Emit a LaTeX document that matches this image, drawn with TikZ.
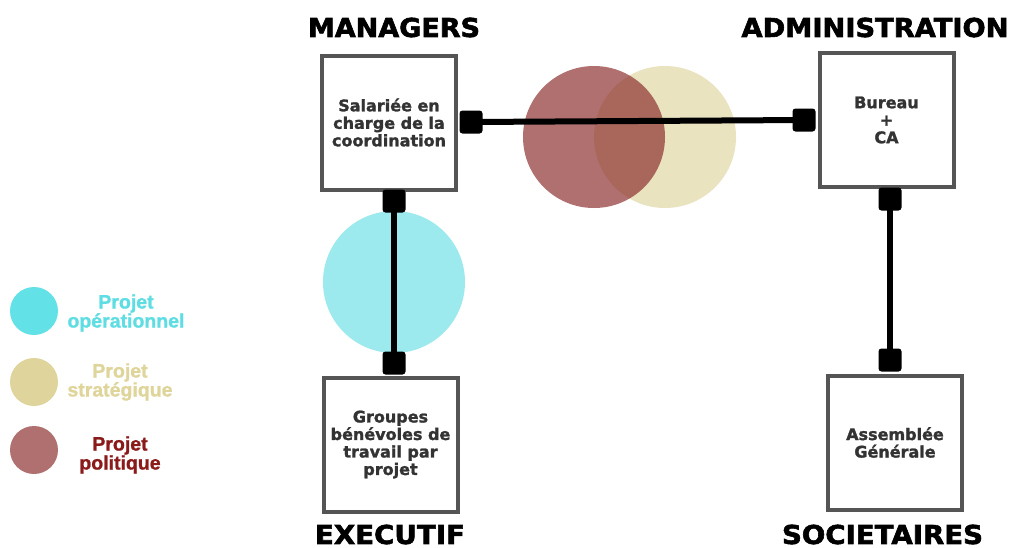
\documentclass[tikz,border=0pt]{standalone}
\usepackage{fontspec}
\setmainfont{DejaVu Sans}
\newfontfamily\headfont{DejaVu Sans}[BoldFeatures={FakeBold=2.2}]
\newfontfamily\boxfont{DejaVu Sans}[BoldFeatures={FakeBold=1.5}]
\newfontfamily\legfont{Liberation Sans}[BoldFeatures={FakeBold=1}]
\usepackage{graphicx}
\definecolor{cyanbig}{HTML}{9CEAEE}
\definecolor{yellowbig}{HTML}{E9E3BF}
\definecolor{redbase}{HTML}{8B2D2D}
\definecolor{cyanleg}{HTML}{62E1E6}
\definecolor{yellowleg}{HTML}{DED49C}
\definecolor{redleg}{HTML}{B07070}
\definecolor{cyantext}{HTML}{5EDDE3}
\definecolor{yellowtext}{HTML}{DFD59B}
\definecolor{redtext}{HTML}{8B1A1A}
\definecolor{boxgray}{HTML}{555555}
\definecolor{textgray}{HTML}{333333}
\begin{document}
\begin{tikzpicture}[x=1pt,y=-1pt,
  box/.style={draw=boxgray, line width=4pt, minimum width=134pt, minimum height=134pt,
    inner sep=0pt, align=center, text=textgray,
    font=\boxfont\fontsize{16}{17.5}\selectfont\bfseries},
  plug/.style={fill=black, rounded corners=3pt, minimum size=23pt, inner sep=0pt},
  conn/.style={line width=6pt},
  head/.style={inner sep=0pt, font=\headfont\fontsize{26}{26}\selectfont\bfseries},
  leg/.style={align=center, inner sep=0pt, font=\legfont\fontsize{19.5}{19}\selectfont\bfseries}]
\useasboundingbox[fill=white] (0,0) rectangle (1010,547);
% big circles
\fill[cyanbig] (394,282) circle[radius=71pt];
\fill[yellowbig] (665,137) circle[radius=71pt];
\fill[redbase, opacity=0.68] (594,137) circle[radius=71pt];
% boxes
\node[box] (sal) at (389,122.5) {Salariée en\\charge de la\\coordination};
\node[box] (bur) at (886.5,120) {Bureau\\+\\CA};
\node[box] (grp) at (390.5,444.5) {Groupes\\bénévoles de\\travail par\\projet};
\node[box] (ag) at (895,442.5) {Assemblée\\Générale};
% plugs
\node[plug] (p1) at (471,122) {};
\node[plug] (p2) at (804,120) {};
\node[plug] (p3) at (394,201) {};
\node[plug] (p4) at (394,363) {};
\node[plug] (p5) at (890,199) {};
\node[plug] (p6) at (890,360) {};
\draw[conn] (p1.center) -- (p2.center);
\draw[conn] (p3.center) -- (p4.center);
\draw[conn] (p5.center) -- (p6.center);
% headings
\node[head] (hman) at (394,27.5) {\resizebox{172pt}{\height}{MANAGERS}};
\node[head] (hadm) at (875,27.5) {\resizebox{267pt}{\height}{ADMINISTRATION}};
\node[head] (hexe) at (390,534.5) {\resizebox{150pt}{\height}{EXECUTIF}};
\node[head] (hsoc) at (882.5,534.5) {\resizebox{201pt}{\height}{SOCIETAIRES}};
% legend
\fill[cyanleg] (34,311) circle[radius=24pt];
\fill[yellowleg] (34,382) circle[radius=24pt];
\fill[redleg] (34,450) circle[radius=24pt];
\node[leg, text=cyantext] (l1) at (126,313) {Projet\\opérationnel};
\node[leg, text=yellowtext] (l2) at (120,382) {Projet\\stratégique};
\node[leg, text=redtext] (l3) at (120,455) {Projet\\politique};
\end{tikzpicture}
\end{document}
